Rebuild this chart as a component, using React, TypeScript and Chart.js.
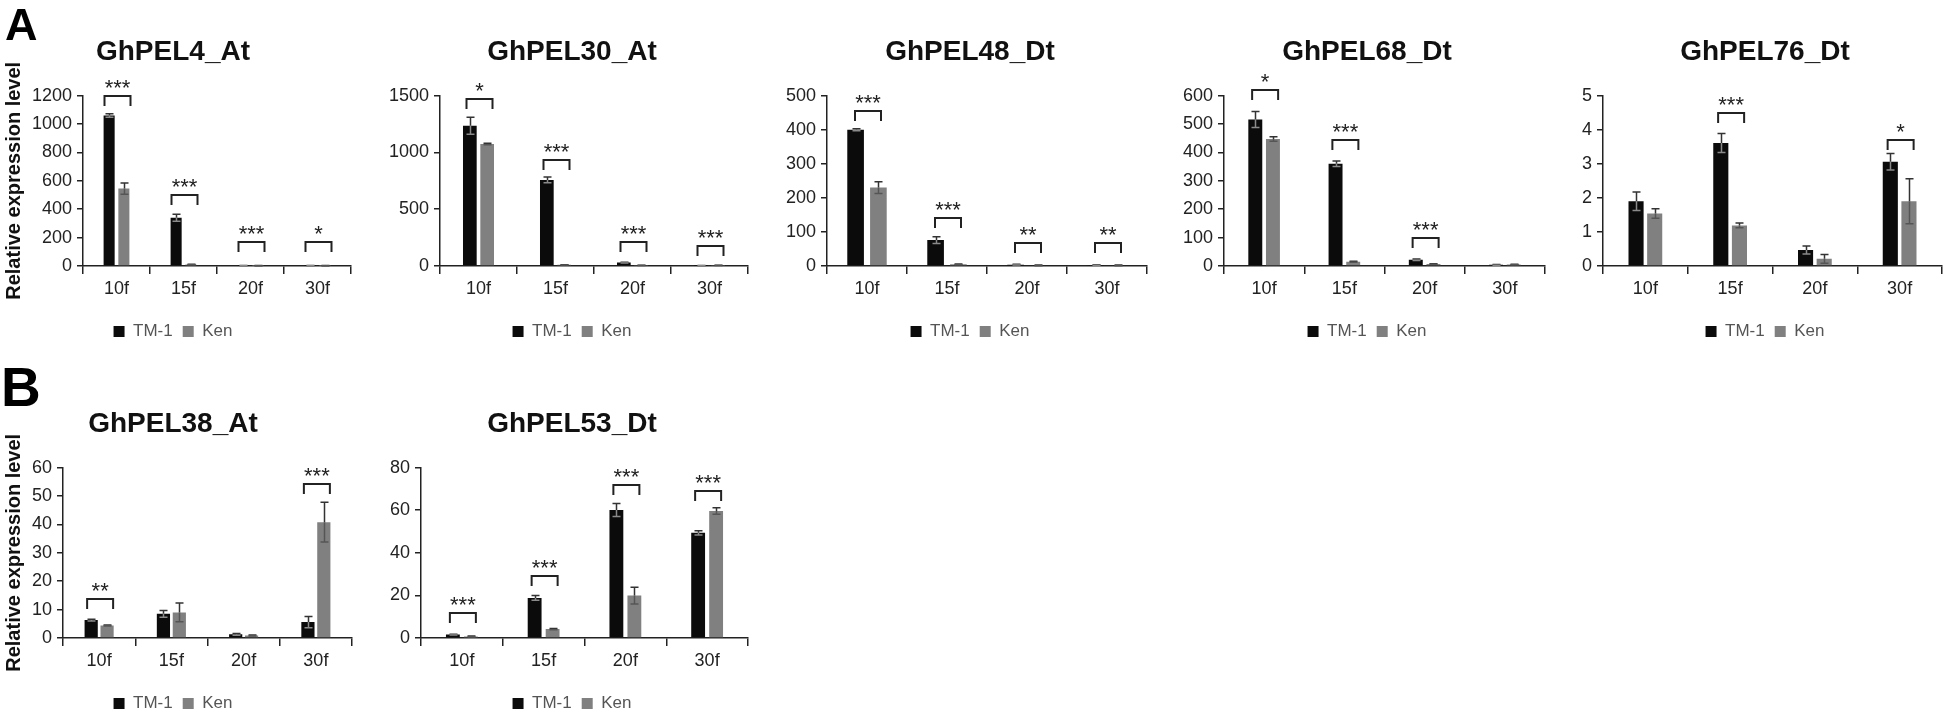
import React, { useEffect, useRef } from 'react';
import { Chart, registerables } from 'chart.js';

Chart.register(...registerables);
Chart.defaults.font.family = "'Liberation Sans', Arial, Helvetica, sans-serif";

// ---------------- data ----------------
const CATEGORIES = ['10f', '15f', '20f', '30f'];
const SERIES = ['TM-1', 'Ken'];
const Y_AXIS_TITLE = 'Relative expression level';

// GhPEL4_At
const PEL4_TM1 = [1060, 340, 2, 2];
const PEL4_TM1_SD = [12, 25, 1, 1];
const PEL4_KEN = [545, 10, 2, 2];
const PEL4_KEN_SD = [40, 2, 1, 1];
const PEL4_SIG = ['***', '***', '***', '*'];
const PEL4_SIG_AT = [1195, 500, 170, 170];
const PEL4_Y_TICKS = [0, 200, 400, 600, 800, 1000, 1200];

// GhPEL30_At
const PEL30_TM1 = [1235, 758, 30, 3];
const PEL30_TM1_SD = [75, 25, 3, 1];
const PEL30_KEN = [1074, 10, 5, 5];
const PEL30_KEN_SD = [6, 2, 1, 1];
const PEL30_SIG = ['*', '***', '***', '***'];
const PEL30_SIG_AT = [1470, 935, 215, 180];
const PEL30_Y_TICKS = [0, 500, 1000, 1500];

// GhPEL48_Dt
const PEL48_TM1 = [400, 76, 4, 3];
const PEL48_TM1_SD = [3, 10, 1, 1];
const PEL48_KEN = [230, 5, 2, 2];
const PEL48_KEN_SD = [17, 1, 1, 1];
const PEL48_SIG = ['***', '***', '**', '**'];
const PEL48_SIG_AT = [456, 142, 67, 67];
const PEL48_Y_TICKS = [0, 100, 200, 300, 400, 500];

// GhPEL68_Dt
const PEL68_TM1 = [516, 360, 22, 4];
const PEL68_TM1_SD = [28, 10, 3, 1];
const PEL68_KEN = [447, 15, 7, 5];
const PEL68_KEN_SD = [8, 2, 1, 1];
const PEL68_SIG = ['*', '***', '***', ''];
const PEL68_SIG_AT = [618, 444, 100, 0];
const PEL68_Y_TICKS = [0, 100, 200, 300, 400, 500, 600];

// GhPEL76_Dt
const PEL76_TM1 = [1.9, 3.61, 0.47, 3.06];
const PEL76_TM1_SD = [0.27, 0.28, 0.12, 0.24];
const PEL76_KEN = [1.54, 1.19, 0.21, 1.9];
const PEL76_KEN_SD = [0.14, 0.07, 0.13, 0.66];
const PEL76_SIG = ['', '***', '', '*'];
const PEL76_SIG_AT = [0, 4.49, 0, 3.71];
const PEL76_Y_TICKS = [0, 1, 2, 3, 4, 5];

// GhPEL38_At
const PEL38_TM1 = [6.3, 8.5, 1.3, 5.6];
const PEL38_TM1_SD = [0.3, 1.2, 0.3, 2.0];
const PEL38_KEN = [4.4, 9.0, 0.9, 40.8];
const PEL38_KEN_SD = [0.2, 3.3, 0.2, 7.0];
const PEL38_SIG = ['**', '', '', '***'];
const PEL38_SIG_AT = [13.6, 0, 0, 54.2];
const PEL38_Y_TICKS = [0, 10, 20, 30, 40, 50, 60];

// GhPEL53_Dt
const PEL53_TM1 = [1.6, 18.8, 60.1, 49.4];
const PEL53_TM1_SD = [0.2, 1.1, 3.1, 1.0];
const PEL53_KEN = [0.7, 4.2, 19.9, 59.6];
const PEL53_KEN_SD = [0.2, 0.3, 3.9, 1.5];
const PEL53_SIG = ['***', '***', '***', '***'];
const PEL53_SIG_AT = [11.8, 29.3, 71.8, 69];
const PEL53_Y_TICKS = [0, 20, 40, 60, 80];

type PanelData = {
  title: string;
  tm1: number[];
  tm1Sd: number[];
  ken: number[];
  kenSd: number[];
  sig: string[];
  sigAt: number[];
  yTicks: number[];
};

const PANELS: PanelData[] = [
  { title: 'GhPEL4_At', tm1: PEL4_TM1, tm1Sd: PEL4_TM1_SD, ken: PEL4_KEN, kenSd: PEL4_KEN_SD, sig: PEL4_SIG, sigAt: PEL4_SIG_AT, yTicks: PEL4_Y_TICKS },
  { title: 'GhPEL30_At', tm1: PEL30_TM1, tm1Sd: PEL30_TM1_SD, ken: PEL30_KEN, kenSd: PEL30_KEN_SD, sig: PEL30_SIG, sigAt: PEL30_SIG_AT, yTicks: PEL30_Y_TICKS },
  { title: 'GhPEL48_Dt', tm1: PEL48_TM1, tm1Sd: PEL48_TM1_SD, ken: PEL48_KEN, kenSd: PEL48_KEN_SD, sig: PEL48_SIG, sigAt: PEL48_SIG_AT, yTicks: PEL48_Y_TICKS },
  { title: 'GhPEL68_Dt', tm1: PEL68_TM1, tm1Sd: PEL68_TM1_SD, ken: PEL68_KEN, kenSd: PEL68_KEN_SD, sig: PEL68_SIG, sigAt: PEL68_SIG_AT, yTicks: PEL68_Y_TICKS },
  { title: 'GhPEL76_Dt', tm1: PEL76_TM1, tm1Sd: PEL76_TM1_SD, ken: PEL76_KEN, kenSd: PEL76_KEN_SD, sig: PEL76_SIG, sigAt: PEL76_SIG_AT, yTicks: PEL76_Y_TICKS },
  { title: 'GhPEL38_At', tm1: PEL38_TM1, tm1Sd: PEL38_TM1_SD, ken: PEL38_KEN, kenSd: PEL38_KEN_SD, sig: PEL38_SIG, sigAt: PEL38_SIG_AT, yTicks: PEL38_Y_TICKS },
  { title: 'GhPEL53_Dt', tm1: PEL53_TM1, tm1Sd: PEL53_TM1_SD, ken: PEL53_KEN, kenSd: PEL53_KEN_SD, sig: PEL53_SIG, sigAt: PEL53_SIG_AT, yTicks: PEL53_Y_TICKS },
];

// ---------------- layout & style ----------------
type PanelLayout = {
  left: number; top: number; width: number; yWidth: number; rWidth: number;
  yTitle: boolean; yTitlePad: number; cat: number; bar: number;
};

const CANVAS_H = 350;
const LAYOUTS: PanelLayout[] = [
  { left: -6, top: 0, width: 358, yWidth: 89, rWidth: 1, yTitle: true, yTitlePad: 8.5, cat: 0.44, bar: 0.75 },
  { left: 380, top: 0, width: 384, yWidth: 60, rWidth: 16, yTitle: false, yTitlePad: 0, cat: 0.45, bar: 0.79 },
  { left: 780, top: 0, width: 380, yWidth: 47, rWidth: 13, yTitle: false, yTitlePad: 0, cat: 0.57, bar: 0.73 },
  { left: 1176, top: 0, width: 382, yWidth: 48, rWidth: 13, yTitle: false, yTitlePad: 0, cat: 0.44, bar: 0.79 },
  { left: 1576, top: 0, width: 378, yWidth: 27, rWidth: 12, yTitle: false, yTitlePad: 0, cat: 0.44, bar: 0.81 },
  { left: -7, top: 372, width: 360, yWidth: 70, rWidth: 1, yTitle: true, yTitlePad: 9.5, cat: 0.44, bar: 0.83 },
  { left: 380, top: 372, width: 384, yWidth: 41, rWidth: 16, yTitle: false, yTitlePad: 0, cat: 0.44, bar: 0.77 },
];

const TM1_COLOR = '#0b0b0b';
const KEN_COLOR = '#808080';
const AXIS_COLOR = '#222222';
const TEXT_COLOR = '#222222';
const LEGEND_TEXT = '#555555';
const ERR_OUT = '#333333';
const ERR_IN_TM1 = '#8a8a8a';
const ERR_IN_KEN = '#555555';
const FONT = "'Liberation Sans', Arial, Helvetica, sans-serif";

const overlayPlugin = {
  id: 'sigOverlay',
  afterDatasetsDraw(chart: any, _args: any, opts: any) {
    const p: PanelData = opts.panel;
    if (!p) return;
    const { ctx } = chart;
    const x = chart.scales.x;
    const y = chart.scales.y;
    ctx.save();
    ctx.lineCap = 'butt';
    // error bars
    chart.data.datasets.forEach((ds: any, di: number) => {
      const meta = chart.getDatasetMeta(di);
      const sds = di === 0 ? p.tm1Sd : p.kenSd;
      meta.data.forEach((bar: any, i: number) => {
        const v = ds.data[i];
        const sd = sds[i];
        const xc = Math.round(bar.x) + 0.5;
        const yV = y.getPixelForValue(v);
        const yTop = y.getPixelForValue(v + sd);
        const yBot = y.getPixelForValue(Math.max(0, v - sd));
        const cap = 4;
        ctx.lineWidth = 1.5;
        ctx.strokeStyle = ERR_OUT;
        ctx.beginPath();
        ctx.moveTo(xc, yV);
        ctx.lineTo(xc, yTop);
        ctx.moveTo(xc - cap, yTop);
        ctx.lineTo(xc + cap, yTop);
        ctx.stroke();
        ctx.strokeStyle = di === 0 ? ERR_IN_TM1 : ERR_IN_KEN;
        ctx.beginPath();
        ctx.moveTo(xc, yV);
        ctx.lineTo(xc, yBot);
        ctx.moveTo(xc - cap, yBot);
        ctx.lineTo(xc + cap, yBot);
        ctx.stroke();
      });
    });
    // significance brackets
    ctx.strokeStyle = AXIS_COLOR;
    ctx.fillStyle = TEXT_COLOR;
    ctx.lineWidth = 2;
    ctx.font = `22px ${FONT}`;
    ctx.textAlign = 'center';
    ctx.textBaseline = 'alphabetic';
    p.sig.forEach((s, i) => {
      if (!s) return;
      const cx = x.getPixelForValue(i) + 1;
      const by = Math.round(y.getPixelForValue(p.sigAt[i]));
      ctx.beginPath();
      ctx.moveTo(cx - 13, by + 10);
      ctx.lineTo(cx - 13, by);
      ctx.lineTo(cx + 13, by);
      ctx.lineTo(cx + 13, by + 10);
      ctx.stroke();
      ctx.fillText(s, cx, by - 1);
    });
    ctx.restore();
  },
};

function Panel({ data, layout }: { data: PanelData; layout: PanelLayout }) {
  const ref = useRef<HTMLCanvasElement>(null);
  useEffect(() => {
    const ticks = data.yTicks;
    const chart = new Chart(ref.current as HTMLCanvasElement, {
      type: 'bar',
      data: {
        labels: CATEGORIES,
        datasets: [
          { label: SERIES[0], data: data.tm1, backgroundColor: TM1_COLOR, borderWidth: 0, categoryPercentage: layout.cat, barPercentage: layout.bar },
          { label: SERIES[1], data: data.ken, backgroundColor: KEN_COLOR, borderWidth: 0, categoryPercentage: layout.cat, barPercentage: layout.bar },
        ],
      },
      options: {
        responsive: false,
        animation: false,
        devicePixelRatio: 1,
        layout: { padding: 0 },
        scales: {
          x: {
            type: 'category',
            grid: { offset: true, drawOnChartArea: false, drawTicks: true, tickLength: 8, color: AXIS_COLOR, lineWidth: 1.5 },
            border: { display: true, color: AXIS_COLOR, width: 1.5 },
            ticks: { font: { size: 18 }, color: TEXT_COLOR, padding: 4, maxRotation: 0 },
            afterFit: (s: any) => { s.height = 47; },
          },
          y: {
            position: 'left',
            min: ticks[0],
            max: ticks[ticks.length - 1],
            ticks: {
              stepSize: ticks[1] - ticks[0],
              font: { size: 18 },
              color: TEXT_COLOR,
              padding: 5,
              callback: (v: any) => String(v),
            },
            grid: { drawOnChartArea: false, drawTicks: true, tickLength: 6, color: AXIS_COLOR, lineWidth: 1.5 },
            border: { display: true, color: AXIS_COLOR, width: 1.5 },
            title: {
              display: layout.yTitle,
              text: Y_AXIS_TITLE,
              font: { size: 20, weight: 'bold' },
              color: '#111111',
              padding: { top: layout.yTitlePad, bottom: 0 },
            },
            afterFit: (s: any) => { s.width = layout.yWidth; },
          },
          yR: {
            type: 'linear',
            position: 'right',
            display: true,
            grid: { display: false, drawTicks: false },
            border: { display: false },
            ticks: { display: false },
            afterFit: (s: any) => { s.width = layout.rWidth; },
          },
        },
        plugins: {
          title: {
            display: true,
            text: data.title,
            font: { size: 28, weight: 'bold' },
            color: '#111111',
            padding: { top: 35, bottom: 27 },
          },
          legend: {
            position: 'bottom',
            labels: { boxWidth: 11, boxHeight: 11, padding: 10, font: { size: 17 }, color: LEGEND_TEXT },
          },
          tooltip: { enabled: false },
          sigOverlay: { panel: data },
        } as any,
      } as any,
      plugins: [overlayPlugin],
    });
    return () => chart.destroy();
  }, [data, layout]);
  return (
    <canvas
      ref={ref}
      width={layout.width}
      height={CANVAS_H}
      style={{ position: 'absolute', left: layout.left, top: layout.top, width: layout.width, height: CANVAS_H }}
    />
  );
}

export default function App() {
  return (
    <div
      style={{
        position: 'absolute', left: 0, top: 0, width: 1946, height: 716,
        overflow: 'hidden', background: '#ffffff', fontFamily: FONT,
      }}
    >
      {PANELS.map((p, i) => (
        <Panel key={p.title} data={p} layout={LAYOUTS[i]} />
      ))}
      <div style={{ position: 'absolute', left: 5, top: 2, fontSize: 45, fontWeight: 'bold', lineHeight: 1, color: '#000' }}>A</div>
      <div style={{ position: 'absolute', left: 1, top: 360, fontSize: 55, fontWeight: 'bold', lineHeight: 1, color: '#000' }}>B</div>
    </div>
  );
}
